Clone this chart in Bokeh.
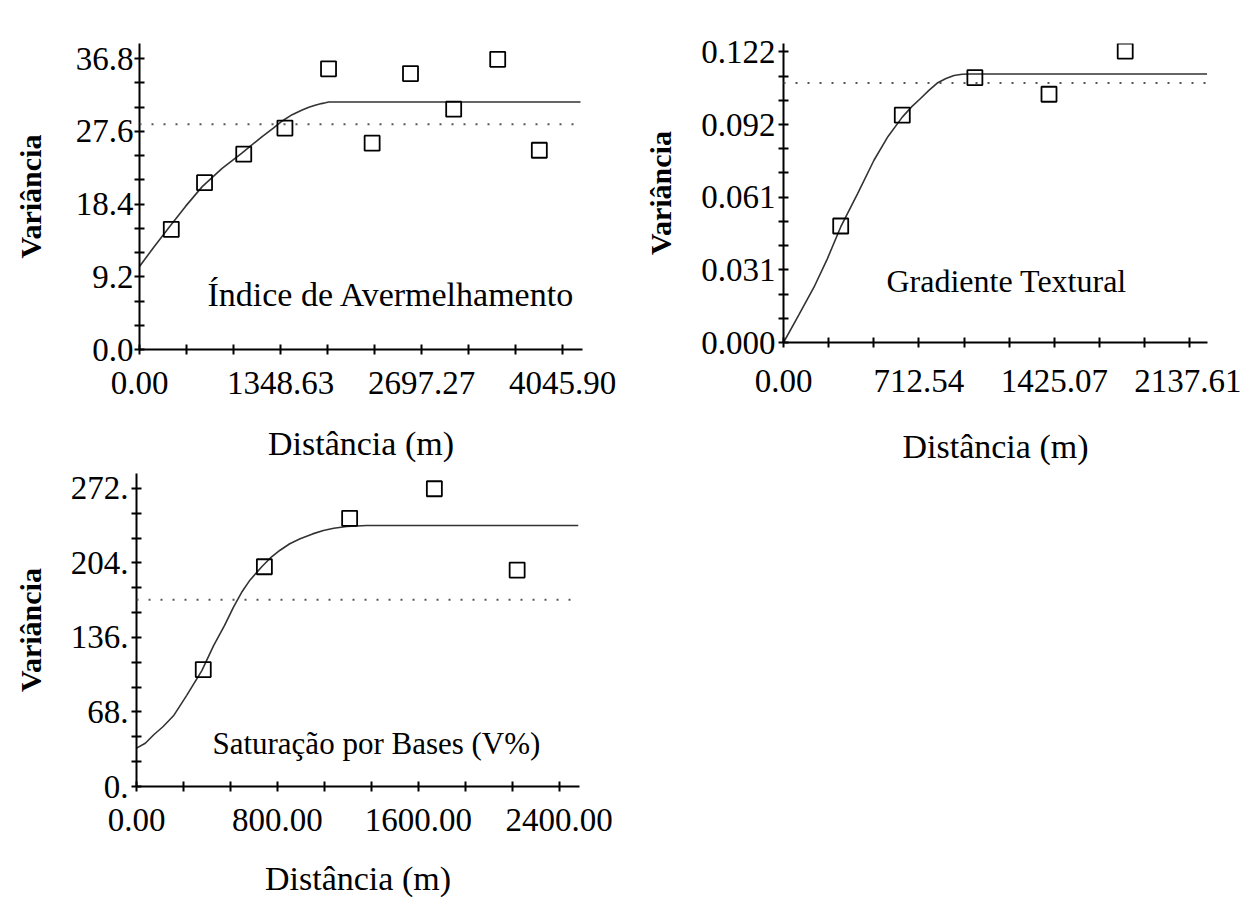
from bokeh.plotting import figure
from bokeh.layouts import column, row
from bokeh.models import Range1d, FixedTicker, Span, Label
from bokeh.embed import file_html
from bokeh.resources import INLINE

FONT = "Liberation Serif"

# ---------------- Panel 1: Índice de Avermelhamento ----------------
iav_lag = [304, 622, 997, 1391, 1808, 2225, 2592, 3005, 3426, 3824]
iav_gamma = [15.2, 21.1, 24.7, 28.0, 35.5, 26.1, 34.9, 30.4, 36.7, 25.2]
iav_model_h = [0, 140, 280, 440, 600, 790, 976, 1170, 1280, 1365, 1460, 1556, 1620, 1680,
               1740, 1779, 1810, 4218]
iav_model_g = [10.5, 13.0, 15.4, 18.1, 20.6, 22.9, 24.8, 26.9, 28.0, 28.9, 29.7, 30.3, 30.65,
               30.9, 31.1, 31.2, 31.3, 31.3]
iav_variance = 28.5
iav_xticks = [0.0, 1348.63, 2697.27, 4045.90]
iav_xlabels = ["0.00", "1348.63", "2697.27", "4045.90"]
iav_yticks = [0.0, 9.2, 18.4, 27.6, 36.8]
iav_ylabels = ["0.0", "9.2", "18.4", "27.6", "36.8"]
iav_xmax, iav_ymax = 4237, 38.7

# ---------------- Panel 2: Gradiente Textural ----------------
gt_lag = [301, 625, 1007, 1397, 1798]
gt_gamma = [0.0489, 0.0954, 0.1112, 0.1042, 0.1223]
gt_model_h = [0, 80, 161, 230, 301, 390, 476, 550, 625, 675, 721, 765, 809, 855, 897, 940,
              984, 2229]
gt_model_g = [0.0, 0.0115, 0.0233, 0.0350, 0.0485, 0.0625, 0.0765, 0.0865, 0.0946, 0.0990,
              0.1024, 0.1058, 0.1089, 0.1108, 0.1121, 0.1126, 0.1127, 0.1127]
gt_variance = 0.1089
gt_xticks = [0.0, 712.54, 1425.07, 2137.61]
gt_xlabels = ["0.00", "712.54", "1425.07", "2137.61"]
gt_yticks = [0.0, 0.0305, 0.061, 0.0915, 0.122]
gt_ylabels = ["0.000", "0.031", "0.061", "0.092", "0.122"]
gt_xmax, gt_ymax = 2231, 0.1255

# ---------------- Panel 3: Saturação por Bases (V%) ----------------
v_lag = [379, 726, 1210, 1691, 2161]
v_gamma = [106.7, 200.5, 244.7, 271.7, 197.5]
v_model_h = [0, 50, 98, 150, 210, 285, 371, 437, 500, 550, 600, 645, 711, 760, 815, 870, 929,
             1000, 1061, 1120, 1193, 1307, 2508]
v_model_g = [35.0, 39.5, 47.2, 54.5, 64.5, 83.2, 105.8, 128.3, 147.0, 163.5, 178.0, 188.5,
             200.5, 208.5, 215.6, 221.5, 226.1, 230.5, 233.6, 235.6, 237.2, 238.1, 238.1]
v_variance = 170.5
v_xticks = [0.0, 800.0, 1600.0, 2400.0]
v_xlabels = ["0.00", "800.00", "1600.00", "2400.00"]
v_yticks = [0.0, 68.0, 136.0, 204.0, 272.0]
v_ylabels = ["0.", "68.", "136.", "204.", "272."]
v_xmax, v_ymax = 2515, 285.6


def minors(ticks, n=3):
    out = []
    for a, b in zip(ticks[:-1], ticks[1:]):
        for k in range(1, n):
            out.append(a + (b - a) * k / n)
    return out


def style_axis(ax, ticks, labels, label_text, bold, lab_standoff, axl_standoff):
    ax.ticker = FixedTicker(ticks=ticks, minor_ticks=minors(ticks))
    ax.major_label_overrides = {t: s for t, s in zip(ticks, labels)}
    ax.axis_line_color = "black"
    ax.axis_line_width = 2
    ax.major_tick_in = 5
    ax.major_tick_out = 5
    ax.minor_tick_in = 5
    ax.minor_tick_out = 5
    ax.major_tick_line_width = 2
    ax.minor_tick_line_width = 2
    ax.major_tick_line_color = "black"
    ax.minor_tick_line_color = "black"
    ax.major_label_text_font = FONT
    ax.major_label_text_font_size = "33px"
    ax.major_label_text_color = "black"
    ax.major_label_standoff = lab_standoff
    ax.axis_label = label_text
    ax.axis_label_text_font = FONT
    ax.axis_label_text_font_size = "30px" if bold else "34px"
    ax.axis_label_text_font_style = "bold" if bold else "normal"
    ax.axis_label_text_color = "black"
    ax.axis_label_standoff = axl_standoff


def panel(lag, gamma, mh, mg, variance, xt, xl, yt, yl, xmax, ymax,
          fw, fh, bl, br, bt, bb, note, note_x, note_y, note_size,
          xs1, xs2, ys1, ys2):
    p = figure(frame_width=fw, frame_height=fh,
               x_range=Range1d(0, xmax), y_range=Range1d(0, ymax),
               output_backend="svg", toolbar_location=None,
               min_border_left=bl, min_border_right=br,
               min_border_top=bt, min_border_bottom=bb)
    p.xgrid.visible = False
    p.ygrid.visible = False
    p.outline_line_color = None
    p.background_fill_color = "white"
    p.border_fill_color = "white"
    style_axis(p.xaxis[0], xt, xl, "Distância (m)", False, xs1, xs2)
    style_axis(p.yaxis[0], yt, yl, "Variância", True, ys1, ys2)

    p.add_layout(Span(location=variance, dimension="width", line_color="#555555",
                      line_width=2, line_dash="2 10"))
    p.line(mh, mg, line_color="#333333", line_width=1.6)
    p.scatter(lag, gamma, marker="square", size=15, fill_color=None,
              line_color="black", line_width=1.8)
    p.add_layout(Label(x=note_x, y=note_y, text=note, text_font=FONT,
                       text_font_size=note_size, text_color="black",
                       text_align="left", text_baseline="alphabetic"))
    return p


p1 = panel(iav_lag, iav_gamma, iav_model_h, iav_model_g, iav_variance,
           iav_xticks, iav_xlabels, iav_yticks, iav_ylabels, iav_xmax, iav_ymax,
           fw=443, fh=306, bl=139, br=40, bt=43, bb=117,
           note="Índice de Avermelhamento", note_x=650, note_y=6.96, note_size="34px",
           xs1=17, xs2=28, ys1=1, ys2=26)

p2 = panel(gt_lag, gt_gamma, gt_model_h, gt_model_g, gt_variance,
           gt_xticks, gt_xlabels, gt_yticks, gt_ylabels, gt_xmax, gt_ymax,
           fw=424, fh=299, bl=161, br=34, bt=43, bb=124,
           note="Gradiente Textural", note_x=542, note_y=0.0260, note_size="32px",
           xs1=22, xs2=33, ys1=3, ys2=21)

p3 = panel(v_lag, v_gamma, v_model_h, v_model_g, v_variance,
           v_xticks, v_xlabels, v_yticks, v_ylabels, v_xmax, v_ymax,
           fw=443, fh=313, bl=136, br=45, bt=6, bb=111,
           note="Saturação por Bases (V%)", note_x=431, note_y=38.8, note_size="31px",
           xs1=17, xs2=26, ys1=3, ys2=21)

layout = column(row(p1, p2), p3)

open("out.html", "w").write(file_html(layout, INLINE))
